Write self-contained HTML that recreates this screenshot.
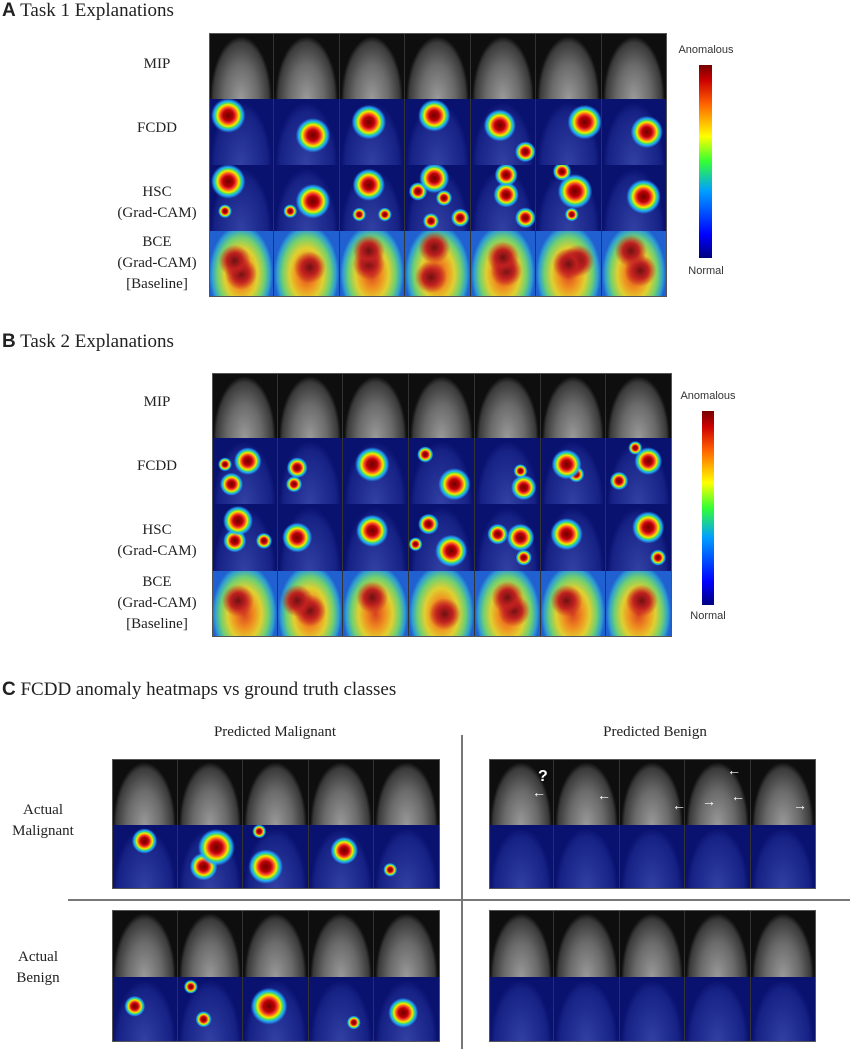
<!DOCTYPE html>
<html><head><meta charset="utf-8"><style>
body{margin:0;background:#fff;width:850px;height:1049px;position:relative;overflow:hidden;font-family:"Liberation Serif",serif;color:#222}
.t{position:absolute;font-size:19px;white-space:nowrap}
.t b{font-family:"Liberation Sans",sans-serif}
.l{position:absolute;font-size:15px;text-align:center;width:120px;line-height:21px}
.s{position:absolute;font-family:"Liberation Sans",sans-serif;font-size:11px;color:#333;text-align:center;width:80px}
.c{position:absolute;box-sizing:border-box;border-right:1px solid #333}
.cb{position:absolute;background:linear-gradient(to top,#00007f,#0000ff 12%,#00a0ff 35%,#3f3 50%,#ff0 63%,#ff6000 80%,#c00 92%,#700)}
.hl{position:absolute;background:#777}
</style></head><body>
<div class="t" style="left:2px;top:0"><b>A</b> Task 1 Explanations</div>
<div class="t" style="left:2px;top:331px"><b>B</b> Task 2 Explanations</div>
<div class="t" style="left:2px;top:679px"><b>C</b> FCDD anomaly heatmaps vs ground truth classes</div>

<div class="l" style="left:97px;top:54px">MIP</div>
<div class="l" style="left:97px;top:118px">FCDD</div>
<div class="l" style="left:97px;top:182px">HSC<br>(Grad-CAM)</div>
<div class="l" style="left:97px;top:232px">BCE<br>(Grad-CAM)<br>[Baseline]</div>
<div class="s" style="left:666px;top:44px">Anomalous</div>
<div class="s" style="left:666px;top:265px">Normal</div>
<div class="cb" style="left:699px;top:65px;width:13px;height:193px"></div>

<div class="l" style="left:97px;top:392px">MIP</div>
<div class="l" style="left:97px;top:456px">FCDD</div>
<div class="l" style="left:97px;top:520px">HSC<br>(Grad-CAM)</div>
<div class="l" style="left:97px;top:572px">BCE<br>(Grad-CAM)<br>[Baseline]</div>
<div class="s" style="left:668px;top:390px">Anomalous</div>
<div class="s" style="left:668px;top:610px">Normal</div>
<div class="cb" style="left:702px;top:411px;width:12px;height:194px"></div>

<div class="l" style="left:210px;top:722px;width:130px;font-size:15px">Predicted Malignant</div>
<div class="l" style="left:590px;top:722px;width:130px;font-size:15px">Predicted Benign</div>
<div class="l" style="left:-17px;top:800px;font-size:15px">Actual<br>Malignant</div>
<div class="l" style="left:-22px;top:947px;font-size:15px">Actual<br>Benign</div>
<div class="hl" style="left:461px;top:735px;width:2px;height:314px"></div>
<div class="hl" style="left:68px;top:899px;width:782px;height:2px"></div>

<div id="g"></div>
<script>
const g=document.getElementById('g');
function blob(x,y,r){return `radial-gradient(circle at ${x}% ${y}%, #6a0000 0, #b00 ${r*.35}px, #e33 ${r*.5}px, #f90 ${r*.62}px, #ee0 ${r*.72}px, #4d6 ${r*.84}px, #2af ${r*.95}px, rgba(30,80,220,0) ${r*1.15}px)`}
const breastH='radial-gradient(ellipse 48% 95% at 50% 100%, rgba(90,110,215,.5), rgba(50,70,180,.3) 85%, rgba(0,0,0,0) 100%)';
const breastM='radial-gradient(ellipse 48% 95% at 50% 100%, #9a9a9a, #6a6a6a 55%, #3a3a3a 90%, rgba(20,20,20,0) 100%)';
function cell(x,y,w,h,type,bl){
  const d=document.createElement('div');d.className='c';
  d.style.cssText=`left:${x}px;top:${y}px;width:${w}px;height:${h}px;`;
  let bg;
  if(type==='m'){bg=breastM+', #0e0e0e';}
  else if(type==='h'){bg=(bl||[]).map(b=>blob(...b)).concat([breastH,'#0a1270']).join(',');}
  else {const c=(bl||[[50,50]]);bg=c.map(p=>`radial-gradient(circle at ${p[0]}% ${p[1]}%, #701010 0, #c02020 8px, rgba(220,60,20,0) 16px)`).concat(['radial-gradient(ellipse 50% 75% at 50% 65%, #d84020 0, #f09020 30%, #e0d030 52%, #70d070 74%, #30a0d0 90%, #2060d0 100%)','#2050c8']).join(',');}
  d.style.background=bg;g.appendChild(d);
}
function grid(x0,x1,ys,rows){
  const n=rows[0].length;const w=(x1-x0)/n;
  for(let r=0;r<rows.length;r++)for(let i=0;i<n;i++){
    const t=rows[r][i];cell(x0+i*w,ys[r],w,ys[r+1]-ys[r],t[0],t[1]);
  }
  const f=document.createElement('div');f.style.cssText=`position:absolute;left:${x0}px;top:${ys[0]}px;width:${x1-x0}px;height:${ys[ys.length-1]-ys[0]}px;border:1px solid #555;box-sizing:border-box`;g.appendChild(f);
}
const M=Array(7).fill(['m']);
grid(209,667,[33,99,165,231,297],[M,
 [['h',[[30,25,15]]],['h',[[60,55,15]]],['h',[[45,35,15]]],['h',[[45,25,14]]],['h',[[45,40,14],[85,80,9]]],['h',[[75,35,15]]],['h',[[70,50,14]]]],
 [['h',[[30,25,15],[25,70,6]]],['h',[[60,55,15],[25,70,6]]],['h',[[45,30,14],[30,75,6],[70,75,6]]],['h',[[45,20,13],[20,40,8],[60,50,7],[40,85,7],[85,80,8]]],['h',[[55,15,10],[55,45,11],[85,80,9]]],['h',[[60,40,15],[40,10,8],[55,75,6]]],['h',[[65,48,15]]]],
 [['b',[[40,45],[50,65]]],['b',[[55,55]]],['b',[[45,30],[45,50]]],['b',[[45,25],[40,70]]],['b',[[50,40],[55,60]]],['b',[[50,50],[65,45]]],['b',[[45,30],[60,60]]]]
]);
grid(212,672,[373,438,504,571,637],[M,
 [['h',[[55,35,12],[30,70,10],[20,40,6]]],['h',[[30,45,9],[25,70,7]]],['h',[[45,40,15]]],['h',[[25,25,7],[70,70,14]]],['h',[[70,50,6],[75,75,11]]],['h',[[40,40,13],[55,55,7]]],['h',[[65,35,12],[45,15,6],[20,65,8]]]],
 [['h',[[40,25,13],[35,55,10],[80,55,7]]],['h',[[30,50,13]]],['h',[[45,40,14]]],['h',[[30,30,9],[65,70,14],[10,60,6]]],['h',[[70,50,12],[35,45,9],[75,80,7]]],['h',[[40,45,14]]],['h',[[65,35,14],[80,80,7]]]],
 [['b',[[40,45]]],['b',[[30,45],[50,60]]],['b',[[45,40]]],['b',[[55,65]]],['b',[[50,40],[60,60]]],['b',[[40,45]]],['b',[[55,45]]]]
]);
const M5=Array(5).fill(['m']);
grid(112,440,[759,825,889],[M5,[['h',[[50,25,11]]],['h',[[60,35,16],[40,65,12]]],['h',[[35,65,15],[25,10,6]]],['h',[[55,40,12]]],['h',[[25,70,6]]]]]);
grid(489,816,[759,825,889],[M5,[['h',[]],['h',[]],['h',[]],['h',[]],['h',[]]]]);
grid(112,440,[910,977,1042],[M5,[['h',[[35,45,9]]],['h',[[20,15,6],[40,65,7]]],['h',[[40,45,16]]],['h',[[70,70,6]]],['h',[[45,55,13]]]]]);
grid(489,816,[910,977,1042],[M5,[['h',[]],['h',[]],['h',[]],['h',[]],['h',[]]]]);
</script>
<div style="position:absolute;left:538px;top:768px;color:#fff;font:bold 16px 'Liberation Sans',sans-serif">?</div>
<div style="position:absolute;left:532px;top:784px;color:#fff;font:bold 14px 'Liberation Sans',sans-serif">←</div>
<div style="position:absolute;left:597px;top:787px;color:#fff;font:bold 14px 'Liberation Sans',sans-serif">←</div>
<div style="position:absolute;left:672px;top:797px;color:#fff;font:bold 14px 'Liberation Sans',sans-serif">←</div>
<div style="position:absolute;left:702px;top:793px;color:#fff;font:bold 14px 'Liberation Sans',sans-serif">→</div>
<div style="position:absolute;left:731px;top:788px;color:#fff;font:bold 14px 'Liberation Sans',sans-serif">←</div>
<div style="position:absolute;left:727px;top:762px;color:#fff;font:bold 14px 'Liberation Sans',sans-serif">←</div>
<div style="position:absolute;left:793px;top:797px;color:#fff;font:bold 14px 'Liberation Sans',sans-serif">→</div>
</body></html>
